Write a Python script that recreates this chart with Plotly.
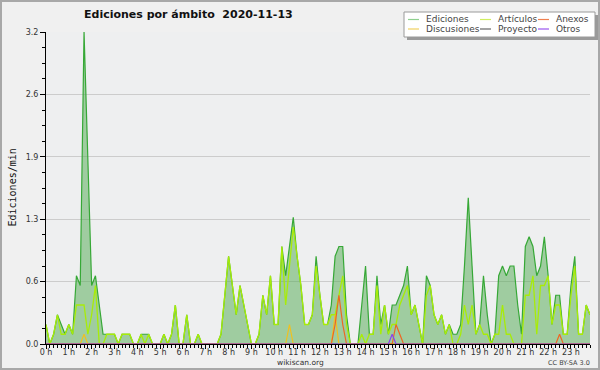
import plotly.graph_objects as go

# ---- data (edits per minute, 10-minute bins, 2020-11-13) ----
ediciones = [
    0.2, 0.0, 0.1, 0.3, 0.2, 0.1, 0.2, 0.1, 0.7, 0.6, 3.2, 2.0,
    0.6, 0.7, 0.4, 0.1, 0.1, 0.1, 0.1, 0.0, 0.1, 0.1, 0.1, 0.0,
    0.0, 0.1, 0.1, 0.1, 0.0, 0.0, 0.0, 0.1, 0.0, 0.1, 0.4, 0.0,
    0.0, 0.3, 0.0, 0.0, 0.1, 0.0, 0.0, 0.0, 0.0, 0.0, 0.1, 0.5,
    0.9, 0.6, 0.3, 0.6, 0.4, 0.2, 0.0, 0.0, 0.1, 0.5, 0.3, 0.7,
    0.2, 0.2, 1.0, 0.7, 1.0, 1.3, 0.9, 0.6, 0.2, 0.2, 0.3, 0.9,
    0.5, 0.2, 0.2, 0.4, 0.9, 1.0, 1.0, 0.3, 0.0, 0.0, 0.0, 0.4,
    0.8, 0.1, 0.1, 0.7, 0.2, 0.4, 0.1, 0.4, 0.4, 0.5, 0.6, 0.8,
    0.3, 0.4, 0.2, 0.0, 0.7, 0.6, 0.3, 0.2, 0.3, 0.1, 0.2, 0.1,
    0.1, 0.2, 0.8, 1.5, 0.8, 0.1, 0.2, 0.7, 0.3, 0.0, 0.1, 0.7,
    0.8, 0.7, 0.8, 0.8, 0.4, 0.1, 1.0, 1.1, 1.0, 0.7, 0.8, 1.1,
    0.7, 0.2, 0.5, 0.5, 0.1, 0.1, 0.6, 0.9, 0.1, 0.1, 0.4, 0.3,
]
articulos = [
    0.2, 0.0, 0.1, 0.3, 0.1, 0.1, 0.2, 0.1, 0.4, 0.4, 0.4, 0.1,
    0.3, 0.6, 0.0, 0.0, 0.1, 0.1, 0.1, 0.0, 0.1, 0.1, 0.1, 0.0,
    0.0, 0.1, 0.0, 0.1, 0.0, 0.0, 0.0, 0.1, 0.0, 0.1, 0.4, 0.0,
    0.0, 0.3, 0.0, 0.0, 0.1, 0.0, 0.0, 0.0, 0.0, 0.0, 0.1, 0.5,
    0.9, 0.6, 0.3, 0.6, 0.4, 0.2, 0.0, 0.0, 0.1, 0.5, 0.3, 0.7,
    0.2, 0.2, 1.0, 0.4, 0.8, 1.2, 0.9, 0.6, 0.2, 0.2, 0.3, 0.8,
    0.5, 0.2, 0.2, 0.3, 0.3, 0.5, 0.7, 0.2, 0.0, 0.0, 0.0, 0.1,
    0.0, 0.1, 0.1, 0.6, 0.1, 0.4, 0.1, 0.2, 0.2, 0.4, 0.5, 0.6,
    0.3, 0.4, 0.2, 0.0, 0.5, 0.6, 0.3, 0.2, 0.3, 0.1, 0.2, 0.0,
    0.0, 0.1, 0.4, 0.2, 0.4, 0.1, 0.2, 0.1, 0.1, 0.0, 0.1, 0.1,
    0.4, 0.1, 0.1, 0.0, 0.0, 0.0, 0.5, 0.5, 0.7, 0.1, 0.6, 0.6,
    0.7, 0.2, 0.4, 0.4, 0.1, 0.1, 0.5, 0.8, 0.1, 0.1, 0.4, 0.3,
]
anexos = [
    0, 0, 0, 0, 0, 0, 0, 0, 0, 0, 0, 0,
    0, 0, 0, 0, 0, 0, 0, 0, 0, 0, 0, 0,
    0, 0, 0, 0, 0, 0, 0, 0, 0, 0, 0, 0,
    0, 0, 0, 0, 0, 0, 0, 0, 0, 0, 0, 0,
    0, 0, 0, 0, 0, 0, 0, 0, 0, 0, 0, 0,
    0, 0, 0, 0, 0, 0, 0, 0, 0, 0, 0, 0,
    0, 0, 0, 0, 0.2, 0.5, 0.2, 0, 0, 0, 0, 0,
    0, 0, 0, 0, 0, 0, 0, 0, 0.2, 0.1, 0, 0,
    0, 0, 0, 0, 0, 0, 0, 0, 0, 0, 0, 0,
    0, 0, 0, 0, 0, 0, 0, 0, 0, 0, 0, 0,
    0, 0, 0, 0, 0, 0, 0, 0, 0, 0, 0, 0,
    0, 0, 0, 0.1, 0, 0, 0, 0, 0, 0, 0, 0,
]
discusiones = [
    0, 0, 0, 0, 0, 0, 0, 0, 0, 0, 0.1, 0,
    0, 0, 0, 0, 0, 0, 0, 0, 0, 0, 0, 0,
    0, 0, 0, 0, 0, 0, 0, 0, 0, 0, 0, 0,
    0, 0, 0, 0, 0, 0, 0, 0, 0, 0, 0, 0,
    0, 0, 0, 0, 0, 0, 0, 0, 0, 0, 0, 0,
    0, 0, 0, 0, 0.2, 0, 0, 0, 0, 0, 0, 0,
    0, 0, 0, 0, 0.3, 0, 0, 0, 0, 0, 0, 0,
    0, 0, 0, 0, 0, 0, 0, 0, 0, 0, 0, 0,
    0, 0, 0, 0, 0, 0, 0, 0, 0, 0, 0, 0,
    0, 0, 0, 0, 0, 0, 0, 0, 0, 0, 0, 0,
    0, 0, 0, 0, 0, 0, 0, 0, 0, 0, 0, 0,
    0, 0, 0, 0, 0, 0, 0, 0, 0, 0, 0, 0,
]
proyecto = [
    0, 0, 0, 0, 0, 0, 0, 0, 0, 0, 0, 0,
    0, 0, 0, 0, 0, 0, 0, 0, 0, 0, 0, 0,
    0, 0, 0, 0, 0, 0, 0, 0, 0, 0, 0, 0,
    0, 0, 0, 0, 0, 0, 0, 0, 0, 0, 0, 0,
    0, 0, 0, 0, 0, 0, 0, 0, 0, 0, 0, 0,
    0, 0, 0, 0, 0, 0, 0, 0, 0, 0, 0, 0,
    0, 0, 0, 0, 0, 0, 0, 0, 0, 0, 0, 0,
    0, 0, 0, 0, 0, 0, 0, 0, 0, 0, 0, 0,
    0, 0, 0, 0, 0, 0, 0, 0, 0, 0, 0, 0,
    0, 0, 0, 0, 0, 0, 0, 0, 0, 0, 0, 0,
    0, 0, 0, 0, 0, 0, 0, 0, 0, 0, 0, 0,
    0, 0, 0, 0, 0, 0, 0, 0, 0, 0, 0, 0,
]
otros = [
    0, 0, 0, 0, 0, 0, 0, 0, 0, 0, 0, 0,
    0, 0, 0, 0, 0, 0, 0, 0, 0, 0, 0, 0,
    0, 0, 0, 0, 0, 0, 0, 0, 0, 0, 0, 0,
    0, 0, 0, 0, 0, 0, 0, 0, 0, 0, 0, 0,
    0, 0, 0, 0, 0, 0, 0, 0, 0, 0, 0, 0,
    0, 0, 0, 0, 0, 0, 0, 0, 0, 0, 0, 0,
    0, 0, 0, 0, 0, 0, 0, 0, 0, 0, 0, 0,
    0, 0, 0, 0, 0, 0, 0, 0.1, 0, 0, 0, 0,
    0, 0, 0, 0, 0, 0, 0, 0, 0, 0, 0, 0,
    0, 0, 0, 0, 0, 0, 0, 0, 0, 0, 0, 0,
    0, 0, 0, 0, 0, 0, 0, 0, 0, 0, 0, 0,
    0, 0, 0, 0, 0, 0, 0, 0, 0, 0, 0, 0,
]

hour_ticks = list(range(24))
hour_labels = ["0 h", "1 h", "2 h", "3 h", "4 h", "5 h", "6 h", "7 h", "8 h", "9 h",
               "10 h", "11 h", "12 h", "13 h", "14 h", "15 h", "16 h", "17 h", "18 h",
               "19 h", "20 h", "21 h", "22 h", "23 h"]
y_tick_vals = [0, 0.64, 1.28, 1.92, 2.56, 3.2]
y_tick_text = ["0.0", "0.6", "1.3", "1.9", "2.6", "3.2"]

title_text = "Ediciones por ámbito\u00a0\u00a02020-11-13"
y_title = "Ediciones/min"
legend_labels = [["Ediciones", "Artículos", "Anexos"],
                 ["Discusiones", "Proyecto", "Otros"]]

# time in hours for each 10-minute bin
hours = [i / 6 for i in range(len(ediciones))]

# ---- geometry helpers ----
W, H = 600, 370
L, R, T, B = 46, 10, 32, 26
PW, PH = W - L - R, H - T - B


def px(x):
    return (x - L) / PW


def py(y):
    return 1 - (y - T) / PH


FONT = "DejaVu Sans"

fig = go.Figure()
fig.add_trace(go.Scatter(x=hours, y=ediciones, mode="lines", fill="tozeroy",
                         fillcolor="rgba(80,170,80,0.5)",
                         line=dict(color="#36a836", width=1.2), name="Ediciones"))
fig.add_trace(go.Scatter(x=hours, y=articulos, mode="lines",
                         line=dict(color="#a8ec08", width=1.3), name="Artículos"))
fig.add_trace(go.Scatter(x=hours, y=proyecto, mode="lines",
                         line=dict(color="#555555", width=1.1), name="Proyecto"))
fig.add_trace(go.Scatter(x=hours, y=discusiones, mode="lines",
                         line=dict(color="#f0c020", width=1.2), name="Discusiones"))
fig.add_trace(go.Scatter(x=hours, y=anexos, mode="lines",
                         line=dict(color="#ee6622", width=1.2), name="Anexos"))
fig.add_trace(go.Scatter(x=hours, y=otros, mode="lines",
                         line=dict(color="#8844ee", width=1.2), name="Otros"))

shapes = []
annotations = []

# outer border
shapes.append(dict(type="rect", xref="paper", yref="paper",
                   x0=px(1), x1=px(599), y0=py(1), y1=py(369),
                   line=dict(color="#a8a8a8", width=2), layer="above"))

# legend box with shadow
shapes.append(dict(type="rect", xref="paper", yref="paper",
                   x0=px(407), x1=px(598), y0=py(15), y1=py(40),
                   fillcolor="#9a9a9a", line=dict(width=0), layer="above"))
shapes.append(dict(type="rect", xref="paper", yref="paper",
                   x0=px(404), x1=px(595), y0=py(12), y1=py(37),
                   fillcolor="#ffffff", line=dict(color="#9a9a9a", width=1), layer="above"))

legend_colors = [["#8fd08f", "#d0ee60", "#f08050"],
                 ["#f0d060", "#666666", "#9955ee"]]
col_line_x = [408, 480, 538]
col_text_x = [424, 496, 554]
row_y = [19.5, 29]
for r in range(2):
    for c in range(3):
        shapes.append(dict(type="line", xref="paper", yref="paper",
                           x0=px(col_line_x[c]), x1=px(col_line_x[c] + 11),
                           y0=py(row_y[r]), y1=py(row_y[r]),
                           line=dict(color=legend_colors[r][c], width=1.2), layer="above"))
        annotations.append(dict(text=legend_labels[r][c], xref="paper", yref="paper",
                                x=px(col_text_x[c]), y=py(row_y[r]),
                                xanchor="left", yanchor="middle", showarrow=False,
                                font=dict(family=FONT, size=9, color="#444444")))

# title
annotations.append(dict(text="<b>" + title_text + "</b>", xref="paper", yref="paper",
                        x=px(188), y=py(14.5), xanchor="center", yanchor="middle",
                        showarrow=False, font=dict(family=FONT, size=11, color="#111111")))
# y axis title
annotations.append(dict(text=y_title, xref="paper", yref="paper",
                        x=px(12), y=py(187.5), xanchor="center", yanchor="middle",
                        textangle=-90, showarrow=False,
                        font=dict(family="DejaVu Sans Mono", size=10, color="#111111")))
# footer
annotations.append(dict(text="wikiscan.org", xref="paper", yref="paper",
                        x=px(300), y=py(362), xanchor="center", yanchor="middle",
                        showarrow=False, font=dict(family=FONT, size=7.5, color="#333333")))
annotations.append(dict(text="CC BY-SA 3.0", xref="paper", yref="paper",
                        x=px(569), y=py(363), xanchor="center", yanchor="middle",
                        showarrow=False, font=dict(family=FONT, size=6.5, color="#444444")))

fig.update_layout(
    width=W, height=H,
    margin=dict(l=L, r=R, t=T, b=B, pad=0),
    paper_bgcolor="#f0f0f0", plot_bgcolor="#eeeff0",
    showlegend=False,
    shapes=shapes, annotations=annotations,
    font=dict(family=FONT, size=8, color="#333333"),
    xaxis=dict(range=[0, hours[-1]], tickvals=hour_ticks, ticktext=hour_labels,
               showgrid=False, zeroline=False, showline=True, linecolor="#000000",
               linewidth=1, ticks="outside", ticklen=4, tickcolor="#000000",
               ticklabelstandoff=-4,
               tickfont=dict(family=FONT, size=8, color="#333333"),
               minor=dict(dtick=1 / 6, tick0=0, ticks="outside", ticklen=3,
                          tickcolor="#000000", showgrid=False),
               fixedrange=True),
    yaxis=dict(range=[0, 3.2], tickvals=y_tick_vals, ticktext=y_tick_text,
               showgrid=True, gridcolor="#cccccc", gridwidth=1, zeroline=False,
               showline=True, linecolor="#000000", linewidth=1,
               ticks="outside", ticklen=5, tickcolor="#000000",
               tickfont=dict(family=FONT, size=8, color="#333333"),
               minor=dict(dtick=0.16, tick0=0, ticks="outside", ticklen=3,
                          tickcolor="#000000", showgrid=False),
               fixedrange=True),
)

fig.write_html("out.html", config={"displayModeBar": False},
               post_script="document.body.style.margin='0';document.body.style.overflow='hidden';")
